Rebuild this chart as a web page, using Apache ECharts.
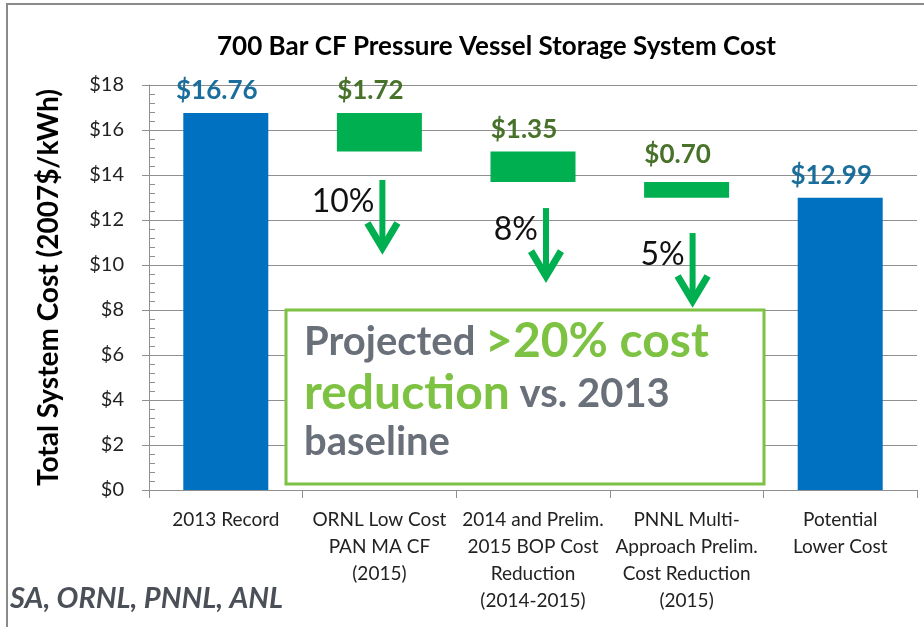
<!DOCTYPE html>
<html>
<head>
<meta charset="utf-8">
<title>700 Bar CF Pressure Vessel Storage System Cost</title>
<script src="https://cdn.jsdelivr.net/npm/echarts@6.0.0/dist/echarts.min.js"></script>
<style>
html, body { margin: 0; padding: 0; background: #fff; }
#main { width: 924px; height: 627px; }
</style>
</head>
<body>
<div id="main"></div>
<script>
// categories along the x axis
var categories = [
  '2013 Record',
  'ORNL Low Cost\nPAN MA CF\n(2015)',
  '2014 and Prelim.\n2015 BOP Cost\nReduction\n(2014-2015)',
  'PNNL Multi-\nApproach Prelim.\nCost Reduction\n(2015)',
  'Potential\nLower Cost'
];
// waterfall: invisible base + visible step
var baseValues = [0, 15.04, 13.69, 12.99, 0];
var stepValues = [16.76, 1.72, 1.35, 0.70, 12.99];
var stepKinds = ['total', 'drop', 'drop', 'drop', 'total'];

// down arrows with percentage reduction
var arrowCats = [1, 2, 3];
var arrowTop = [13.78, 12.53, 11.42];
var arrowTip = [10.58, 9.33, 8.22];
var arrowPct = ['10%', '8%', '5%'];

var yMin = 0, yMax = 18, yStep = 2;

var BLUE = '#0070C0', GREEN = '#00B050';
var BLUE_TXT = '#1B6E9B', GREEN_TXT = '#48722A';
var GRID = '#8f8f8f';
var FONT = 'Lato, "Open Sans", sans-serif';

var myChart = echarts.init(document.getElementById('main'));

var stepData = stepValues.map(function (v, i) {
  var total = stepKinds[i] === 'total';
  var item = {
    value: v,
    itemStyle: { color: total ? BLUE : GREEN },
    label: { color: total ? BLUE_TXT : GREEN_TXT }
  };
  if (i === 3) item.label.distance = 14;
  return item;
});

var option = {
  animation: false,
  backgroundColor: '#fff',
  title: {
    text: '700 Bar CF Pressure Vessel Storage System Cost',
    left: 212,
    top: 29,
    textStyle: { fontFamily: FONT, fontWeight: 'bold', fontSize: 26, color: '#000' }
  },
  grid: { left: 149, right: 7, top: 85, bottom: 137 },
  xAxis: {
    type: 'category',
    data: categories,
    axisLine: { lineStyle: { color: GRID, width: 1 } },
    axisTick: { show: true, length: 8, lineStyle: { color: GRID } },
    axisLabel: {
      interval: 0,
      margin: 16,
      fontFamily: FONT,
      fontSize: 19,
      lineHeight: 27,
      color: '#222'
    }
  },
  yAxis: [{
    type: 'value',
    min: yMin,
    max: yMax,
    interval: yStep,
    name: 'Total System Cost (2007$/kWh)',
    nameLocation: 'middle',
    nameGap: 86,
    nameTextStyle: { fontFamily: FONT, fontWeight: 'bold', fontSize: 28, color: '#000' },
    axisLine: { show: true, lineStyle: { color: GRID } },
    axisTick: { show: true, length: 7, lineStyle: { color: GRID } },
    axisLabel: {
      margin: 25,
      fontFamily: FONT,
      fontSize: 20,
      color: '#222',
      formatter: function (v) { return '$' + v; }
    },
    splitLine: { lineStyle: { color: GRID, width: 1 } }
  }, {
    // inside minor ticks
    type: 'value',
    position: 'left',
    min: yMin,
    max: yMax,
    interval: yStep / 5,
    axisLine: { show: false },
    axisTick: { show: true, inside: true, length: 6, lineStyle: { color: GRID } },
    axisLabel: { show: false },
    splitLine: { show: false }
  }],
  series: [{
    name: 'base',
    type: 'bar',
    stack: 'cost',
    barWidth: 85,
    itemStyle: { color: 'transparent' },
    emphasis: { disabled: true },
    data: baseValues
  }, {
    name: 'cost',
    type: 'bar',
    stack: 'cost',
    barWidth: 85,
    label: {
      show: true,
      position: 'top',
      distance: 9,
      offset: [-9, 0],
      fontFamily: FONT,
      fontWeight: 'bold',
      fontSize: 26,
      formatter: function (p) { return '$' + p.value.toFixed(2); }
    },
    data: stepData
  }]
};

myChart.setOption(option);

// annotations placed through the axes
var arrowShift = [3, 13, 6];
var graphics = [];
arrowCats.forEach(function (c, i) {
  var top = myChart.convertToPixel({ xAxisIndex: 0, yAxisIndex: 0 }, [c, arrowTop[i]]);
  var tip = myChart.convertToPixel({ xAxisIndex: 0, yAxisIndex: 0 }, [c, arrowTip[i]]);
  var x = top[0] + arrowShift[i];
  graphics.push({
    type: 'line', z: 20,
    shape: { x1: x, y1: top[1], x2: x, y2: tip[1] - 4 },
    style: { stroke: GREEN, lineWidth: 6 }
  });
  graphics.push({
    type: 'polyline', z: 20,
    shape: { points: [[x - 15, tip[1] - 29], [x, tip[1] - 4], [x + 15, tip[1] - 29]] },
    style: { stroke: GREEN, lineWidth: 7, fill: null, lineJoin: 'miter' }
  });
  graphics.push({
    type: 'text', z: 20,
    style: {
      text: arrowPct[i], x: x - 8, y: top[1] + 22,
      align: 'right', verticalAlign: 'middle',
      font: '32px ' + FONT, fill: '#111'
    }
  });
});

// outer frame
graphics.push({
  type: 'line', z: 30,
  shape: { x1: 7, y1: 4, x2: 7, y2: 627 },
  style: { stroke: '#8a8a8a', lineWidth: 2 }
});
graphics.push({
  type: 'line', z: 30,
  shape: { x1: 6, y1: 4, x2: 924, y2: 4 },
  style: { stroke: '#8a8a8a', lineWidth: 2 }
});

// callout box
graphics.push({
  type: 'rect', z: 15,
  shape: { x: 286, y: 310, width: 478, height: 174 },
  style: { fill: '#fff', stroke: '#7DC242', lineWidth: 3 }
});
var boxRich = {
  g: { fontFamily: FONT, fontWeight: 'bold', fontSize: 40, fill: '#6A7079', lineHeight: 50 },
  h: { fontFamily: FONT, fontWeight: 'bold', fontSize: 48, fill: '#7DC242', lineHeight: 50 }
};
[['{g|Projected }{h|>20% cost}', 342], ['{h|reduction}{g| vs. 2013}', 394], ['{g|baseline}', 442]].forEach(function (ln) {
  graphics.push({
    type: 'text', z: 16,
    style: { text: ln[0], x: 304, y: ln[1], verticalAlign: 'middle', rich: boxRich }
  });
});

// source note
graphics.push({
  type: 'text', z: 16,
  style: {
    text: 'SA, ORNL, PNNL, ANL', x: 10, y: 599, verticalAlign: 'middle',
    font: 'italic bold 29px ' + FONT, fill: '#4B5058'
  }
});

myChart.setOption({ graphic: graphics });
</script>
</body>
</html>
